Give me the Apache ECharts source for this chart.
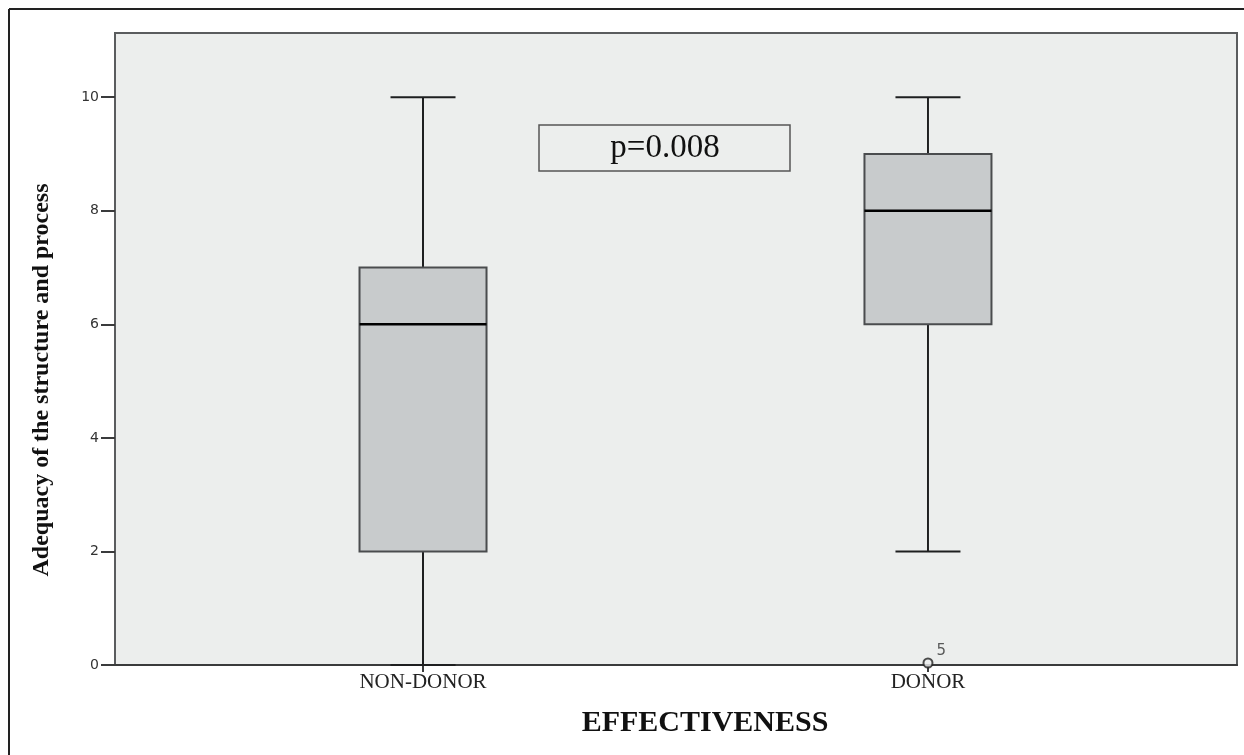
<!DOCTYPE html>
<html><head><meta charset="utf-8">
<script src="https://cdn.jsdelivr.net/npm/echarts@6/dist/echarts.min.js"></script>
<style>html,body{margin:0;padding:0;background:#fff}#c{width:1244px;height:755px}</style>
</head><body><div id="c"></div>
<script>
const categories = ['NON-DONOR', 'DONOR'];
const catPositions = [1, 2];
// [min, Q1, median, Q3, max]
const boxValues = [[0, 2, 6, 7, 10], [2, 6, 8, 9, 10]];
const outlierPoints = [[2, 0, '5']];
const yTickValues = [0, 2, 4, 6, 8, 10];
const pText = 'p=0.008';

const chart = echarts.init(document.getElementById('c'));
const boxSeriesData = boxValues.map((b, i) => [catPositions[i]].concat(b));

chart.setOption({
  animation: false,
  backgroundColor: '#ffffff',
  grid: { left: 115, top: 33, right: 7, bottom: 90, show: true, backgroundColor: '#eceeed', borderColor: '#5a5c5e', borderWidth: 2 },
  xAxis: {
    type: 'value', min: 0.39, max: 2.612,
    splitLine: { show: false },
    axisLine: { show: true, lineStyle: { color: '#3a3b3c', width: 2 } },
    axisTick: { show: true, customValues: catPositions, length: 7, lineStyle: { color: '#3a3b3c', width: 2 } },
    axisLabel: {
      customValues: catPositions,
      formatter: v => categories[catPositions.indexOf(v)] || '',
      fontFamily: 'Liberation Serif', fontSize: 21, color: '#222', margin: 7
    }
  },
  yAxis: {
    type: 'value', min: 0, max: 11.13,
    splitLine: { show: false },
    axisLine: { show: true, lineStyle: { color: '#5a5c5e', width: 2 } },
    axisTick: { show: true, customValues: yTickValues, length: 14, lineStyle: { color: '#3a3b3c', width: 2 } },
    axisLabel: { customValues: yTickValues, fontFamily: 'DejaVu Sans', fontSize: 14, color: '#333', margin: 16 }
  },
  series: [
    {
      type: 'custom',
      data: boxSeriesData,
      encode: { x: 0, y: [1, 2, 3, 4, 5] },
      renderItem: function (params, api) {
        const x = api.value(0);
        const pMin = api.coord([x, api.value(1)]);
        const pQ1 = api.coord([x, api.value(2)]);
        const pMed = api.coord([x, api.value(3)]);
        const pQ3 = api.coord([x, api.value(4)]);
        const pMax = api.coord([x, api.value(5)]);
        const cx = pMin[0];
        const bw = 127, cw = 65;
        const lineStyle = { stroke: '#1e1f20', lineWidth: 2 };
        return {
          type: 'group',
          children: [
            { type: 'line', shape: { x1: cx, y1: pMax[1], x2: cx, y2: pQ3[1] }, style: lineStyle },
            { type: 'line', shape: { x1: cx, y1: pQ1[1], x2: cx, y2: pMin[1] }, style: lineStyle },
            { type: 'line', shape: { x1: cx - cw / 2, y1: pMax[1], x2: cx + cw / 2, y2: pMax[1] }, style: lineStyle },
            { type: 'line', shape: { x1: cx - cw / 2, y1: pMin[1], x2: cx + cw / 2, y2: pMin[1] }, style: lineStyle },
            { type: 'rect', shape: { x: cx - bw / 2, y: pQ3[1], width: bw, height: pQ1[1] - pQ3[1] }, style: { fill: '#c8cbcc', stroke: '#4a4c4e', lineWidth: 2 } },
            { type: 'line', shape: { x1: cx - bw / 2, y1: pMed[1], x2: cx + bw / 2, y2: pMed[1] }, style: { stroke: '#000', lineWidth: 2.5 } }
          ]
        };
      }
    },
    {
      type: 'scatter',
      data: outlierPoints,
      clip: false, z: 10,
      symbol: 'circle', symbolSize: 9, symbolOffset: [0, -2],
      itemStyle: { color: '#eceeed', borderColor: '#222', borderWidth: 2 },
      label: { show: true, formatter: p => p.data[2], position: [14, -14], fontFamily: 'DejaVu Sans', fontSize: 15, color: '#333' }
    }
  ],
  graphic: [
    { type: 'line', shape: { x1: 9, y1: 9, x2: 1250, y2: 9 }, style: { stroke: '#222', lineWidth: 2 } },
    { type: 'line', shape: { x1: 9, y1: 9, x2: 9, y2: 760 }, style: { stroke: '#222', lineWidth: 2 } },
    { type: 'rect', shape: { x: 539, y: 125, width: 251, height: 46 }, style: { fill: '#eceeed', stroke: '#555', lineWidth: 1.5 } },
    { type: 'text', x: 665, y: 148, style: { text: pText, font: '33px "Liberation Serif"', fill: '#111', textAlign: 'center', textVerticalAlign: 'middle' } },
    { type: 'text', x: 705, y: 723, style: { text: 'EFFECTIVENESS', font: 'bold 30px "Liberation Serif"', fill: '#111', textAlign: 'center', textVerticalAlign: 'middle' } },
    { type: 'text', x: 42, y: 380, rotation: Math.PI / 2, style: { text: 'Adequacy of the structure and process', font: 'bold 24px "Liberation Serif"', fill: '#111', textAlign: 'center', textVerticalAlign: 'middle' } }
  ]
});
</script></body></html>
